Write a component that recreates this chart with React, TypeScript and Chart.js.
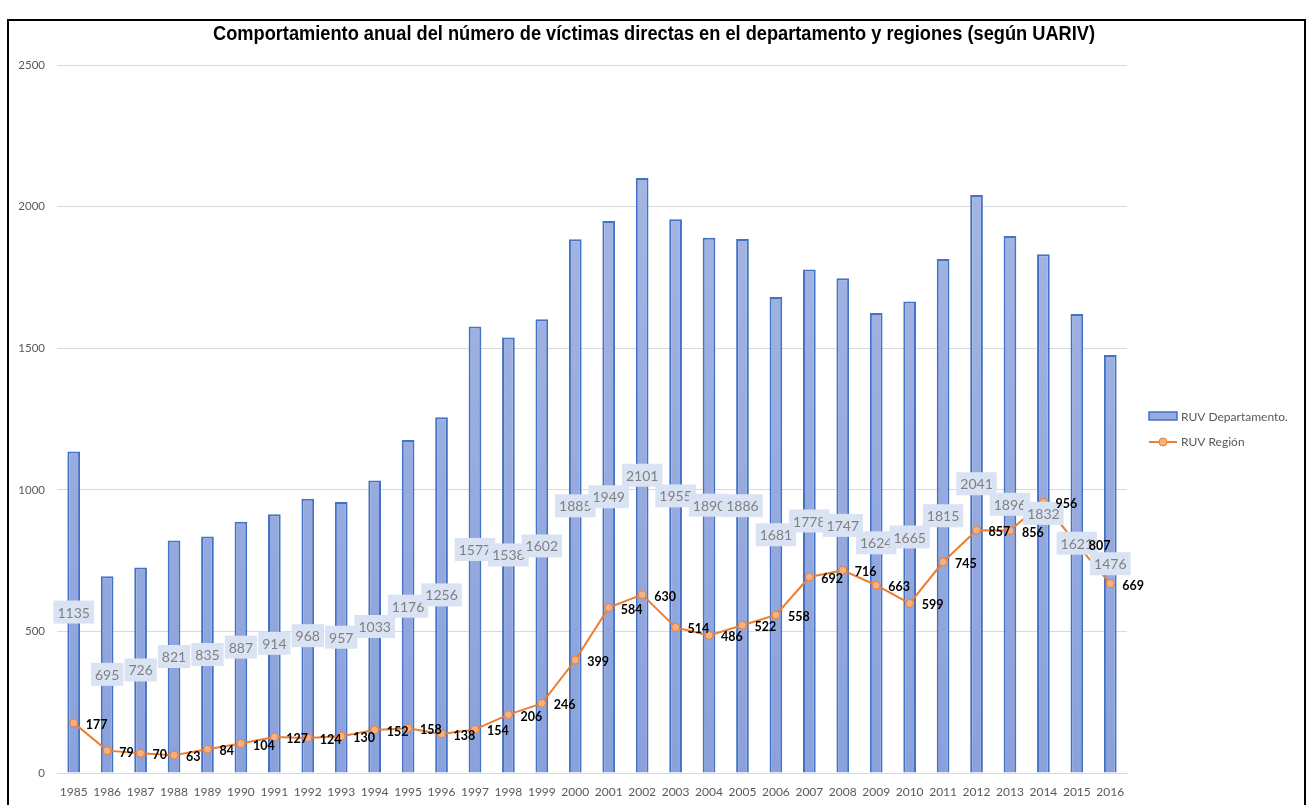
import React, { useEffect, useRef } from "react";
import { Chart, registerables } from "chart.js";

Chart.register(...registerables);

const years = ["1985","1986","1987","1988","1989","1990","1991","1992","1993","1994","1995","1996","1997","1998","1999","2000","2001","2002","2003","2004","2005","2006","2007","2008","2009","2010","2011","2012","2013","2014","2015","2016"];
const departamento = [1135,695,726,821,835,887,914,968,957,1033,1176,1256,1577,1538,1602,1885,1949,2101,1955,1890,1886,1681,1778,1747,1624,1665,1815,2041,1896,1832,1621,1476];
const region = [177,79,70,63,84,104,127,124,130,152,158,138,154,206,246,399,584,630,514,486,522,558,692,716,663,599,745,857,856,956,807,669];
const yTicks = [0, 500, 1000, 1500, 2000, 2500];

const TITLE = "Comportamiento anual del número de víctimas directas en el departamento y regiones (según UARIV)";
const FONT = "'Liberation Sans', sans-serif";
const FONT2 = "Lato, 'Noto Sans', sans-serif";

const decorPlugin = {
  id: "decor",
  beforeDraw(chart: any) {
    const ctx = chart.ctx;
    ctx.save();
    ctx.fillStyle = "#ffffff";
    ctx.fillRect(0, 0, chart.width, chart.height);
    ctx.restore();
  },
  afterDatasetsDraw(chart: any) {
    const ctx = chart.ctx;
    const barMeta = chart.getDatasetMeta(0);
    ctx.save();
    ctx.font = `14px ${FONT2}`;
    ctx.textAlign = "center";
    ctx.textBaseline = "middle";
    barMeta.data.forEach((el: any, i: number) => {
      const txt = String(departamento[i]);
      const cx = el.x;
      const cy = (el.y + el.base) / 2;
      const w = ctx.measureText(txt).width + 8;
      const h = 23;
      ctx.fillStyle = "#DAE3F3";
      ctx.fillRect(cx - w / 2, cy - h / 2, w, h);
      ctx.fillStyle = "#808080";
      ctx.fillText(txt, cx, cy + 1);
    });
    const lineMeta = chart.getDatasetMeta(1);
    ctx.font = `bold 12.5px ${FONT2}`;
    ctx.textAlign = "left";
    ctx.fillStyle = "#000000";
    lineMeta.data.forEach((el: any, i: number) => {
      ctx.fillText(String(region[i]), el.x + 12, el.y + 2);
    });
    ctx.restore();
  },
  afterDraw(chart: any) {
    const ctx = chart.ctx;
    ctx.save();
    ctx.strokeStyle = "#000000";
    ctx.lineWidth = 2;
    ctx.strokeRect(8, 20, 1297, 800);
    // title, horizontally condensed
    ctx.font = `bold 20px ${FONT}`;
    ctx.fillStyle = "#000000";
    ctx.textAlign = "center";
    ctx.textBaseline = "middle";
    const tw = ctx.measureText(TITLE).width;
    const sx = 882 / tw;
    ctx.save();
    ctx.translate(654, 34);
    ctx.scale(sx, 1);
    ctx.fillText(TITLE, 0, 0);
    ctx.restore();
    // legend
    ctx.textAlign = "left";
    ctx.textBaseline = "middle";
    ctx.font = `12px ${FONT2}`;
    ctx.fillStyle = "#95ABDF";
    ctx.fillRect(1149, 412, 28, 8);
    ctx.strokeStyle = "#4472C4";
    ctx.lineWidth = 1.5;
    ctx.strokeRect(1149, 412, 28, 8);
    ctx.fillStyle = "#595959";
    ctx.fillText("RUV Departamento.", 1181, 417);
    ctx.strokeStyle = "#ED7D31";
    ctx.lineWidth = 2;
    ctx.beginPath();
    ctx.moveTo(1149, 442);
    ctx.lineTo(1177, 442);
    ctx.stroke();
    ctx.beginPath();
    ctx.arc(1163, 442, 4, 0, Math.PI * 2);
    ctx.fillStyle = "#F4B183";
    ctx.fill();
    ctx.lineWidth = 1;
    ctx.stroke();
    ctx.fillStyle = "#595959";
    ctx.fillText("RUV Región", 1181, 442);
    ctx.restore();
  },
};

export default function App() {
  const ref = useRef<HTMLCanvasElement>(null);
  useEffect(() => {
    const canvas = ref.current!;
    const ctx = canvas.getContext("2d")!;
    const grad = ctx.createLinearGradient(0, 65, 0, 773);
    grad.addColorStop(0, "#A9B9E4");
    grad.addColorStop(1, "#8AA1DC");
    const chart = new Chart(canvas, {
      data: {
        labels: years,
        datasets: [
          {
            type: "bar",
            label: "RUV Departamento.",
            data: departamento,
            backgroundColor: grad,
            borderColor: "#4472C4",
            borderWidth: 2,
            barPercentage: 0.38,
            categoryPercentage: 1,
            order: 2,
          },
          {
            type: "line",
            label: "RUV Región",
            data: region,
            borderColor: "#ED7D31",
            borderWidth: 2,
            pointRadius: 4,
            pointBackgroundColor: "#F4B183",
            pointBorderColor: "#ED7D31",
            pointBorderWidth: 1,
            tension: 0,
            order: 1,
          },
        ],
      } as any,
      options: {
        responsive: false,
        animation: false,
        layout: { padding: { left: 0, right: 182, top: 65, bottom: 0 } },
        plugins: {
          legend: { display: false },
          title: { display: false },
          tooltip: { enabled: false },
        },
        scales: {
          x: {
            grid: { display: false, drawTicks: false },
            border: { display: true, color: "#D9D9D9", width: 1 },
            ticks: { color: "#595959", font: { size: 12, family: FONT2 }, padding: 12, maxRotation: 0, autoSkip: false },
            afterFit: (s: any) => { s.height = 32; },
          },
          y: {
            min: 0,
            max: 2500,
            afterBuildTicks: (s: any) => { s.ticks = yTicks.map((v) => ({ value: v })); },
            grid: { color: "#D9D9D9", drawTicks: false },
            border: { display: false },
            ticks: {
              color: "#595959",
              font: { size: 11.5, family: FONT2 },
              padding: 12,
              callback: (v: any) => String(v),
            },
            afterFit: (s: any) => { s.width = 57; },
          },
        },
      },
      plugins: [decorPlugin],
    });
    return () => chart.destroy();
  }, []);
  return (
    <div style={{ position: "fixed", left: 0, top: 0, width: 1309, height: 805, background: "#fff" }}>
      <canvas ref={ref} width={1309} height={805} style={{ display: "block" }} />
    </div>
  );
}
